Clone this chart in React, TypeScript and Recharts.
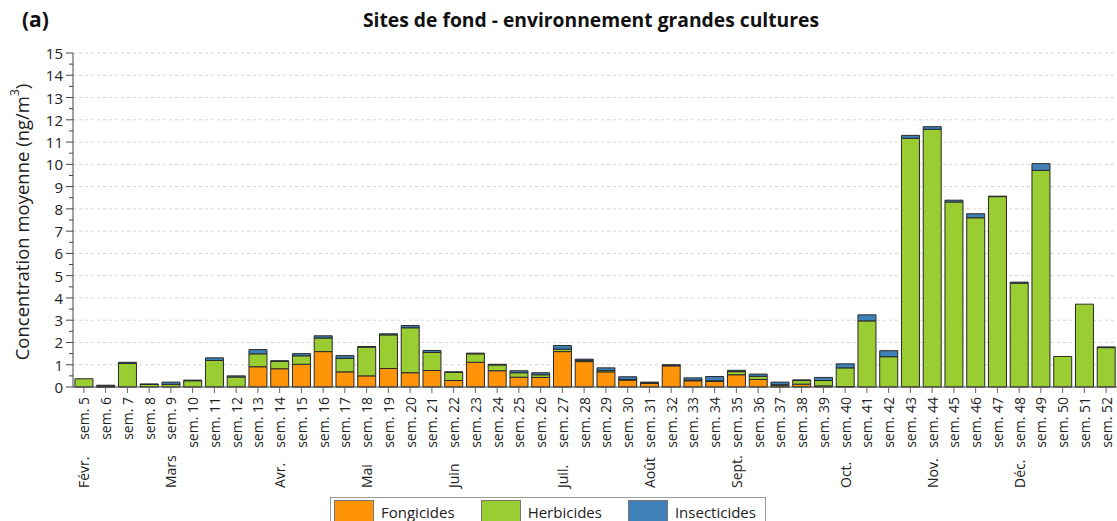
import { Bar, BarChart, CartesianGrid, XAxis, YAxis } from "recharts";

const WEEKS = [
  "sem. 5", "sem. 6", "sem. 7", "sem. 8", "sem. 9", "sem. 10", "sem. 11", "sem. 12",
  "sem. 13", "sem. 14", "sem. 15", "sem. 16", "sem. 17", "sem. 18", "sem. 19", "sem. 20",
  "sem. 21", "sem. 22", "sem. 23", "sem. 24", "sem. 25", "sem. 26", "sem. 27", "sem. 28",
  "sem. 29", "sem. 30", "sem. 31", "sem. 32", "sem. 33", "sem. 34", "sem. 35", "sem. 36",
  "sem. 37", "sem. 38", "sem. 39", "sem. 40", "sem. 41", "sem. 42", "sem. 43", "sem. 44",
  "sem. 45", "sem. 46", "sem. 47", "sem. 48", "sem. 49", "sem. 50", "sem. 51", "sem. 52",
];

const MONTHS: Record<string, string> = {
  "sem. 5": "Févr.",
  "sem. 9": "Mars",
  "sem. 14": "Avr.",
  "sem. 18": "Mai",
  "sem. 22": "Juin",
  "sem. 27": "Juil.",
  "sem. 31": "Août",
  "sem. 35": "Sept.",
  "sem. 40": "Oct.",
  "sem. 44": "Nov.",
  "sem. 48": "Déc.",
};

const FONGICIDES = [
  0, 0.01, 0, 0, 0, 0, 0, 0,
  0.91, 0.82, 1.02, 1.59, 0.68, 0.5, 0.83, 0.64,
  0.74, 0.29, 1.11, 0.73, 0.44, 0.43, 1.59, 1.14,
  0.68, 0.31, 0.16, 0.95, 0.28, 0.25, 0.55, 0.34,
  0.08, 0.13, 0.05, 0.02, 0, 0, 0, 0,
  0, 0, 0, 0, 0, 0, 0, 0,
];

const HERBICIDES = [
  0.37, 0.03, 1.06, 0.12, 0.12, 0.28, 1.19, 0.45,
  0.58, 0.33, 0.38, 0.61, 0.61, 1.29, 1.51, 2.02,
  0.81, 0.37, 0.38, 0.26, 0.2, 0.12, 0.11, 0.06,
  0.06, 0.03, 0.03, 0.02, 0.03, 0.03, 0.14, 0.14,
  0.02, 0.16, 0.24, 0.84, 2.97, 1.36, 11.17, 11.57,
  8.31, 7.6, 8.55, 4.66, 9.73, 1.37, 3.72, 1.77,
];

const INSECTICIDES = [
  0, 0.04, 0.05, 0.01, 0.1, 0.03, 0.12, 0.05,
  0.19, 0.03, 0.1, 0.1, 0.12, 0.03, 0.05, 0.1,
  0.09, 0.02, 0.03, 0.03, 0.09, 0.09, 0.16, 0.05,
  0.12, 0.12, 0.03, 0.03, 0.1, 0.19, 0.06, 0.1,
  0.12, 0.03, 0.14, 0.18, 0.27, 0.27, 0.13, 0.12,
  0.08, 0.18, 0.02, 0.05, 0.3, 0, 0, 0.03,
];

const Y_MAJOR = [0, 1, 2, 3, 4, 5, 6, 7, 8, 9, 10, 11, 12, 13, 14, 15];
const Y_ALL = [
  0, 0.5, 1, 1.5, 2, 2.5, 3, 3.5, 4, 4.5, 5, 5.5, 6, 6.5, 7, 7.5,
  8, 8.5, 9, 9.5, 10, 10.5, 11, 11.5, 12, 12.5, 13, 13.5, 14, 14.5, 15,
];

const SERIES = [
  { key: "fongicides", name: "Fongicides", color: "#FF9408" },
  { key: "herbicides", name: "Herbicides", color: "#9ACD32" },
  { key: "insecticides", name: "Insecticides", color: "#3F80B7" },
];

const FONT = "'Open Sans', sans-serif";

const data = WEEKS.map((week, i) => ({
  week,
  fongicides: FONGICIDES[i],
  herbicides: HERBICIDES[i],
  insecticides: INSECTICIDES[i],
}));

function WeekTick({ x, y, payload }: any) {
  const month = MONTHS[payload.value];
  return (
    <g>
      <text
        x={x}
        y={y}
        transform={`rotate(-90 ${x} ${y})`}
        textAnchor="end"
        dominantBaseline="central"
        fontSize={14}
        fill="#222"
        fontFamily={FONT}
      >
        {payload.value}
      </text>
      {month && (
        <text
          x={x}
          y={488}
          transform={`rotate(-90 ${x} 488)`}
          textAnchor="start"
          dominantBaseline="central"
          fontSize={14}
          fill="#222"
          fontFamily={FONT}
        >
          {month}
        </text>
      )}
    </g>
  );
}

function ConcTick({ x, y, payload }: any) {
  const major = Number.isInteger(payload.value);
  return (
    <g>
      <line x1={x - (major ? 7 : 4)} x2={x} y1={y} y2={y} stroke="#444" />
      {major && (
        <text
          x={x - 10}
          y={y}
          textAnchor="end"
          dominantBaseline="central"
          fontSize={15}
          fill="#222"
          fontFamily={FONT}
        >
          {payload.value}
        </text>
      )}
    </g>
  );
}

export default function App() {
  return (
    <div style={{ position: "absolute", left: 0, top: 0, width: 1117, height: 521, background: "#fff", overflow: "hidden" }}>
      <svg width={1117} height={521} style={{ position: "absolute", left: 0, top: 0 }}>
        <text x={22} y={19} dominantBaseline="central" fontSize={21} fontWeight="bold" fontFamily={FONT} fill="#111">
          (a)
        </text>
        <text x={591} y={19} textAnchor="middle" dominantBaseline="central" fontSize={19.3} fontWeight="bold" fontFamily={FONT} fill="#111">
          Sites de fond - environnement grandes cultures
        </text>
        <text
          x={21}
          y={222}
          transform="rotate(-90 21 222)"
          textAnchor="middle"
          dominantBaseline="central"
          fontSize={18.5}
          fontFamily={FONT}
          fill="#222"
        >
          Concentration moyenne (ng/m<tspan dy={-7} fontSize={12}>3</tspan><tspan dy={7}>)</tspan>
        </text>
      </svg>
      <div style={{ position: "absolute", left: 0, top: 0 }}>
        <BarChart
          width={1117}
          height={521}
          data={data}
          margin={{ top: 53, right: 0, left: 0, bottom: 0 }}
          barCategoryGap="9%"
        >
          <CartesianGrid
            vertical={false}
            horizontalValues={Y_MAJOR}
            stroke="#d4d4d4"
            strokeDasharray="3 3"
          />
          <XAxis
            dataKey="week"
            interval={0}
            height={134}
            tick={<WeekTick />}
            tickSize={6}
            tickMargin={4}
            tickLine={{ stroke: "#666" }}
            axisLine={{ stroke: "#444" }}
          />
          <YAxis
            width={73}
            domain={[0, 15]}
            ticks={Y_ALL}
            interval={0}
            tick={<ConcTick />}
            tickLine={false}
            tickSize={0}
            tickMargin={0}
            axisLine={{ stroke: "#444" }}
          />
          {SERIES.map((s) => (
            <Bar
              key={s.key}
              dataKey={s.key}
              name={s.name}
              stackId="a"
              fill={s.color}
              stroke="#2a2a2a"
              strokeWidth={1}
              isAnimationActive={false}
            />
          ))}
        </BarChart>
      </div>
      <div
        style={{
          position: "absolute",
          left: 330,
          top: 497,
          width: 436,
          height: 30,
          border: "1px solid #999",
          display: "flex",
          alignItems: "flex-start",
          fontFamily: FONT,
          fontSize: 15,
          color: "#222",
          boxSizing: "border-box",
          paddingTop: 2,
        }}
      >
        {SERIES.map((s, i) => (
          <div key={s.key} style={{ display: "flex", alignItems: "center", marginLeft: i === 0 ? 3 : 26 }}>
            <div style={{ width: 38, height: 22, background: s.color, border: "1px solid #777" }} />
            <span style={{ marginLeft: 7 }}>{s.name}</span>
          </div>
        ))}
      </div>
    </div>
  );
}
